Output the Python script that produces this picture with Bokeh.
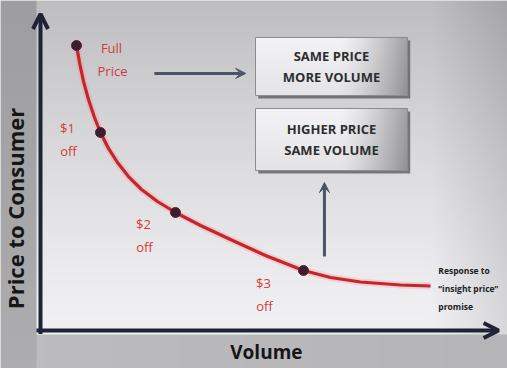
import numpy as np
from bokeh.plotting import figure
from bokeh.models import Range1d, Arrow, OpenHead, VeeHead
from bokeh.embed import file_html
from bokeh.resources import INLINE
from bokeh.core.properties import value

# Demand curve: volume (share of max) against price to consumer (index)
curve_volume = [8.0, 8.67, 9.56, 10.67, 12.0, 13.33, 15.11, 17.11, 19.56, 22.44,
                26.0, 30.0, 35.56, 42.22, 50.0, 58.44, 64.44, 71.11, 80.0, 86.67]
curve_price = [95.0, 89.33, 83.0, 77.0, 71.0, 66.0, 60.67, 56.0, 51.33, 47.0,
               43.0, 39.33, 35.0, 30.33, 25.0, 20.0, 17.67, 16.17, 15.17, 14.83]

# Price points on the curve
point_volume = [8.0, 13.33, 30.0, 58.44]
point_price = [95.0, 66.0, 39.33, 20.0]
label_top = ["Full", "$1", "$2", "$3"]
label_bottom = ["Price", "off", "off", "off"]

box_lines = [["SAME PRICE", "MORE VOLUME"], ["HIGHER PRICE", "SAME VOLUME"]]
note_lines = ["Response to", "\u201cinsight price\u201d", "promise"]

W, H = 507, 368
X0, X1 = -8.889, 103.778
Y0, Y1 = -12.667, 110.0

p = figure(width=W, height=H, x_range=Range1d(X0, X1), y_range=Range1d(Y0, Y1),
           x_axis_type=None, y_axis_type=None, toolbar_location=None,
           output_backend="svg", min_border=0, outline_line_color=None,
           background_fill_color="#d8d8d8", border_fill_color="#d8d8d8")
p.grid.visible = False


def to_rgba(v, alpha=None):
    h, w = v.shape
    img = np.empty((h, w), dtype=np.uint32)
    view = img.view(dtype=np.uint8).reshape((h, w, 4))
    g = np.clip(v * 255, 0, 255).astype(np.uint8)
    view[:, :, 0] = g
    view[:, :, 1] = g
    view[:, :, 2] = np.clip(v * 255 + 3, 0, 255).astype(np.uint8)
    view[:, :, 3] = 255 if alpha is None else alpha
    return img


# Backdrop shading: light panel, grey margins
xx, yy = np.meshgrid(np.arange(W) + 0.5, np.arange(H) + 0.5)
t = np.clip((330 - yy) / 330, 0, 1)
v = 0.945 - 0.20 * t ** 1.3
v -= 0.10 * np.clip((xx - 430) / 77, 0, 1)
v = np.where(xx < 36, 0.62 + 0.06 * (yy / H), v)
v = np.where((yy > 334) & (xx >= 36), 0.74 - 0.03 * (xx / W), v)
bg = to_rgba(v[::-1])
p.image_rgba(image=[bg], x=X0, y=Y0, dw=X1 - X0, dh=Y1 - Y0)

# Callout boxes with shadows
boxes = [(47.78, 81.56, 78.33, 97.67), (47.78, 81.56, 53.33, 74.0)]
for (bx0, bx1, by0, by1), lines in zip(boxes, box_lines):
    p.quad(left=bx0 + 0.6, right=bx1 + 0.6, bottom=by0 - 1.0, top=by1 - 1.0,
           fill_color="#555555", fill_alpha=0.75, line_color=None)
    bw = int(round((bx1 - bx0) * 4.5))
    bh = int(round((by1 - by0) * 3))
    tx = np.linspace(0, 1, bw)[None, :]
    ty = np.linspace(0, 1, bh)[:, None]
    bv = 0.955 - 0.32 * np.clip((tx - 0.55) / 0.45, 0, 1) ** 1.4 - 0.06 * (1 - ty)
    p.image_rgba(image=[to_rgba(bv)], x=bx0, y=by0, dw=bx1 - bx0, dh=by1 - by0)
    p.quad(left=bx0, right=bx1, bottom=by0, top=by1, fill_color=None,
           line_color="#8c8c8c", line_width=1)
    cy = (by0 + by1) / 2
    p.text(x=[(bx0 + bx1) / 2] * 2, y=[cy + 3.4, cy - 3.4], text=lines,
           text_font=value("Open Sans"), text_font_style="bold",
           text_font_size="13px", text_color="#2e2e2e",
           text_align="center", text_baseline="middle")

# Axes with open arrowheads
axis_color = "#1e2436"
p.add_layout(Arrow(x_start=0, y_start=-1.2, x_end=0, y_end=105.5,
                   line_color=axis_color, line_width=4,
                   end=OpenHead(size=15, line_width=4, line_color=axis_color)))
p.add_layout(Arrow(x_start=-0.9, y_start=0, x_end=101.8, y_end=0,
                   line_color=axis_color, line_width=4,
                   end=OpenHead(size=15, line_width=4, line_color=axis_color)))

# Movement arrows
mv = "#4a5464"
p.add_layout(Arrow(x_start=25.3, y_start=85.7, x_end=45.6, y_end=85.7,
                   line_color=mv, line_width=3,
                   end=VeeHead(size=10, fill_color=mv, line_color=mv)))
p.add_layout(Arrow(x_start=63.1, y_start=24.7, x_end=63.1, y_end=49.3,
                   line_color=mv, line_width=3,
                   end=VeeHead(size=10, fill_color=mv, line_color=mv)))

# Demand curve
p.line(curve_volume, curve_price, line_color="#ff8080", line_width=7, line_alpha=0.25)
p.line(curve_volume, curve_price, line_color="#c4262c", line_width=3.2)
p.scatter(point_volume, point_price, size=10, fill_color="#3a1e2e", line_color="#5a2030")

red = "#d23a3e"
offsets = [(35, 3), (-33, -4), (-32, 11), (-40, 13)]
for xv, pv, top, bot, (dx, dy) in zip(point_volume, point_price, label_top, label_bottom, offsets):
    p.text(x=[xv, xv], y=[pv, pv], text=[top, bot], x_offset=[dx, dx + 1],
           y_offset=[dy, dy + 23], text_font=value("Open Sans"),
           text_font_size="13px", text_color=red,
           text_align="center", text_baseline="middle")

# Note beside the curve end
p.text(x=[88.4] * 3, y=[20.0, 14.0, 8.0], text=note_lines,
       text_font=value("Open Sans"), text_font_size="8.5px", text_color="#202020",
       text_font_style="bold", text_align="left", text_baseline="middle")

# Axis titles
p.text(x=[50.2], y=[-7.3], text=["Volume"], text_font=value("Open Sans"),
       text_font_style="bold", text_font_size="19px", text_color="#161616",
       text_align="center", text_baseline="middle")
p.text(x=[-5.6], y=[40.7], text=["Price to Consumer"], angle=np.pi / 2,
       text_font=value("Open Sans"), text_font_style="bold",
       text_font_size="22px", text_color="#161616",
       text_align="center", text_baseline="middle")

open("out.html", "w").write(file_html(p, INLINE))
